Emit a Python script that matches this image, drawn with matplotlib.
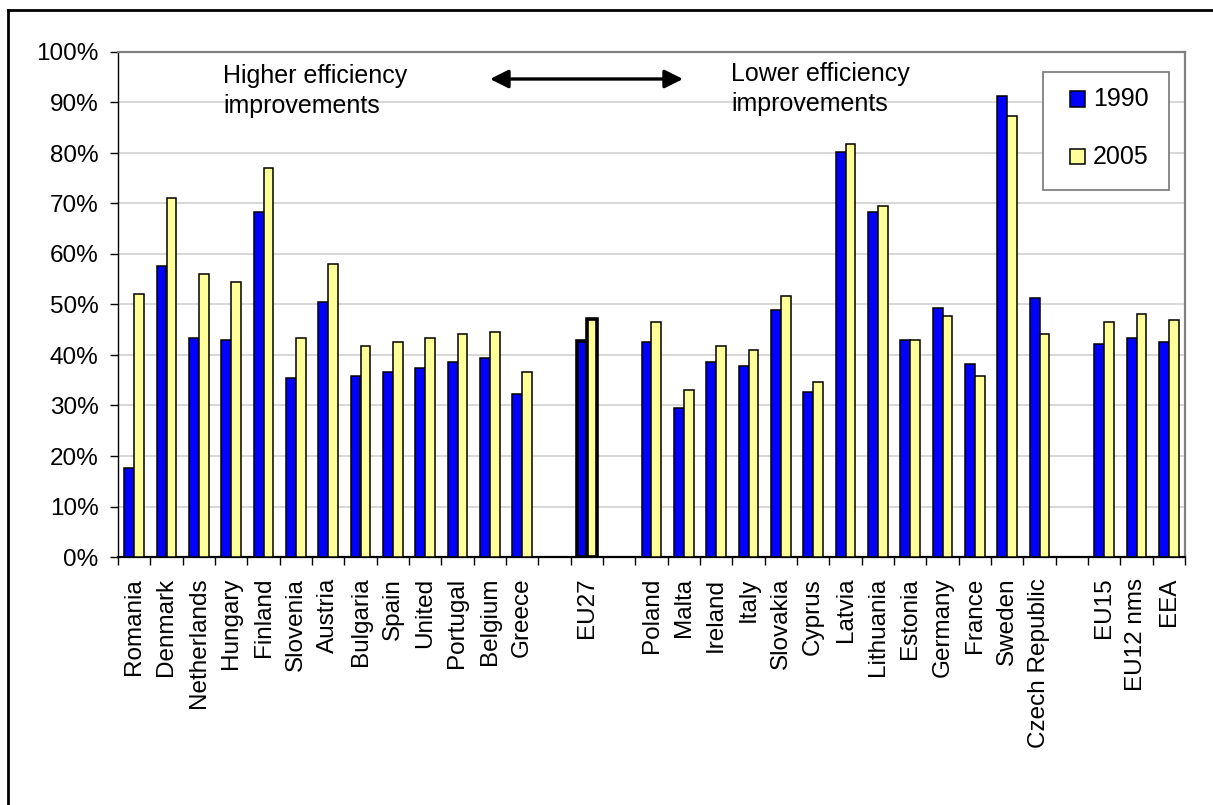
import matplotlib
matplotlib.use("Agg")
import matplotlib.pyplot as plt
from matplotlib.patches import Rectangle, FancyArrowPatch
from matplotlib.lines import Line2D
from matplotlib.ticker import FixedLocator, PercentFormatter

plt.rcParams['font.family'] = ['Liberation Sans', 'DejaVu Sans']

# Countries and aggregates; empty strings leave a gap between groups
labels = ["Romania", "Denmark", "Netherlands", "Hungary", "Finland", "Slovenia",
          "Austria", "Bulgaria", "Spain", "United", "Portugal", "Belgium", "Greece",
          "", "EU27", "",
          "Poland", "Malta", "Ireland", "Italy", "Slovakia", "Cyprus", "Latvia",
          "Lithuania", "Estonia", "Germany", "France", "Sweden", "Czech Republic",
          "", "EU15", "EU12 nms", "EEA"]

share_1990 = [17.7, 57.6, 43.4, 43.0, 68.3, 35.5, 50.5, 35.9, 36.7, 37.5, 38.7, 39.4, 32.3,
              None, 42.7, None,
              42.6, 29.6, 38.7, 37.9, 48.9, 32.7, 80.2, 68.3, 42.9, 49.3, 38.3, 91.3, 51.3,
              None, 42.2, 43.4, 42.6]

share_2005 = [52.0, 71.0, 56.0, 54.4, 77.0, 43.3, 58.0, 41.8, 42.5, 43.3, 44.2, 44.6, 36.7,
              None, 47.1, None,
              46.5, 33.1, 41.8, 41.0, 51.7, 34.7, 81.7, 69.5, 42.9, 47.8, 35.9, 87.3, 44.2,
              None, 46.5, 48.2, 47.0]

series_names = ["1990", "2005"]
BLUE = "#0000ff"
YELLOW = "#ffff99"

W, H = 1213, 805
fig = plt.figure(figsize=(W / 100, H / 100), dpi=100)


def fx(px):
    return px / W


def fy(py):
    return 1 - py / H


ax = fig.add_axes([fx(118), fy(557), fx(1185) - fx(118), fy(52) - fy(557)])

n = len(labels)
bw = 0.3
for i, (a, b) in enumerate(zip(share_1990, share_2005)):
    if a is None:
        continue
    lw = 2.6 if labels[i] == "EU27" else 1.1
    ax.bar(i - bw / 2, a, width=bw, color=BLUE, edgecolor="black", linewidth=lw, zorder=3)
    ax.bar(i + bw / 2, b, width=bw, color=YELLOW, edgecolor="black", linewidth=lw, zorder=3)

ax.set_xlim(-0.5, n - 0.5)
ax.set_ylim(0, 100)

# y axis: percentages every 10 %
ax.yaxis.set_major_locator(FixedLocator(range(0, 101, 10)))
ax.yaxis.set_major_formatter(PercentFormatter(decimals=0))
ax.tick_params(axis="y", direction="out", length=6, width=1, labelsize=17.5, pad=8, colors="black")
ax.grid(axis="y", color="#d4d4d4", linewidth=1.3, zorder=0)
ax.set_axisbelow(True)

# x axis: labels at centres, tick marks at slot boundaries
ax.set_xticks(range(n))
ax.set_xticklabels(labels, rotation=90, fontsize=17.5, va="top", ha="center")
ax.tick_params(axis="x", which="major", length=0, pad=15)
ax.set_xticks([i - 0.5 for i in range(n + 1)], minor=True)
ax.tick_params(axis="x", which="minor", direction="out", length=6, width=1, color="black")

for side in ("top", "right"):
    ax.spines[side].set_color("#808080")
    ax.spines[side].set_linewidth(1.6)
ax.spines["left"].set_color("black")
ax.spines["left"].set_linewidth(1.0)
ax.spines["bottom"].set_color("black")
ax.spines["bottom"].set_linewidth(1.6)

# direction annotations
fig.text(fx(223), fy(64), "Higher efficiency\nimprovements", fontsize=18, va="top", ha="left",
         linespacing=1.3)
fig.text(fx(731), fy(62), "Lower efficiency\nimprovements", fontsize=18, va="top", ha="left",
         linespacing=1.3)
arrow = FancyArrowPatch((fx(490), fy(79)), (fx(683), fy(79)), transform=fig.transFigure,
                        arrowstyle="<|-|>,head_length=11,head_width=5.5", mutation_scale=1,
                        color="black", linewidth=2.4, shrinkA=0, shrinkB=0)
fig.add_artist(arrow)

# legend box
fig.add_artist(Rectangle((fx(1043), fy(190)), fx(1169) - fx(1043), fy(72) - fy(190),
                         transform=fig.transFigure, facecolor="white", edgecolor="#808080",
                         linewidth=1.3, zorder=5))
for name, col, yc in zip(series_names, [BLUE, YELLOW], [99, 157]):
    fig.add_artist(Rectangle((fx(1070), fy(yc + 7.5)), fx(15), 15 / H,
                             transform=fig.transFigure, facecolor=col, edgecolor="black",
                             linewidth=1.1, zorder=6))
    fig.text(fx(1093), fy(yc), name, fontsize=18, va="center", ha="left", zorder=6)

# frame lines along the top and left of the figure
fig.add_artist(Line2D([fx(8), 1], [fy(10), fy(10)], transform=fig.transFigure,
                      color="black", linewidth=2))
fig.add_artist(Line2D([fx(8), fx(8)], [fy(10), 0], transform=fig.transFigure,
                      color="black", linewidth=2))

fig.savefig("out.png", dpi=100, facecolor="white")
